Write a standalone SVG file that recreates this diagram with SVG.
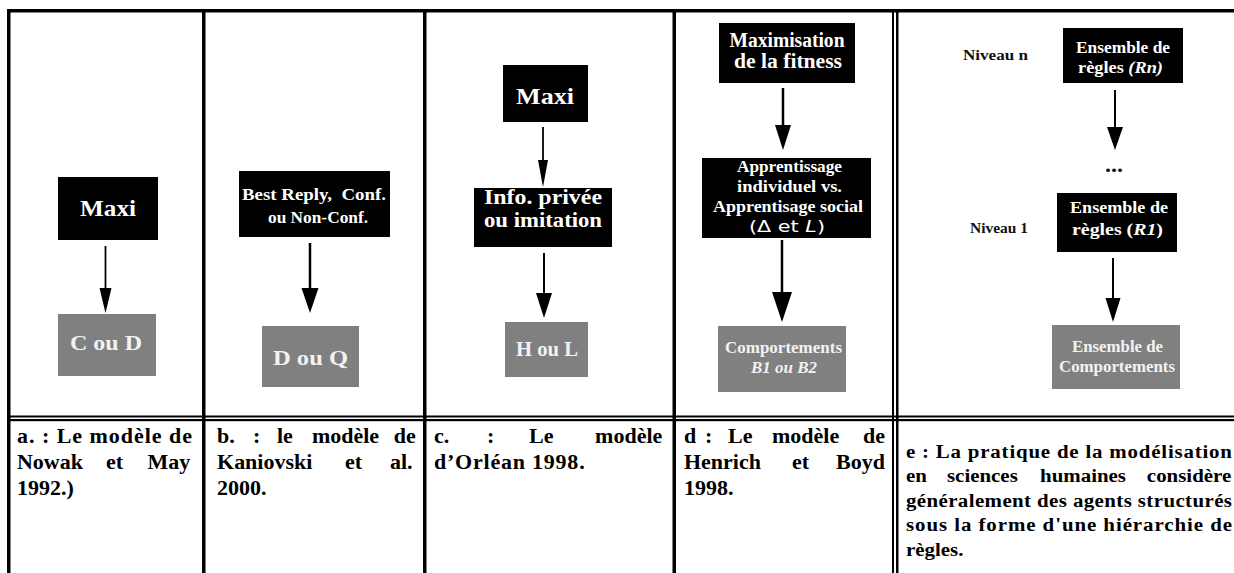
<svg xmlns="http://www.w3.org/2000/svg" width="1234" height="573" viewBox="0 0 1234 573">
<style>
.bg{fill:#fff}
.rule{fill:#000}
.blk{fill:#000}
.gry{fill:#808080}
.bt{font-family:"Liberation Serif","Times New Roman",serif;font-weight:bold;fill:#fff;text-anchor:middle}
.gt{font-family:"Liberation Serif","Times New Roman",serif;font-weight:bold;fill:#f2f2f2;text-anchor:middle}
.lbl{font-family:"Liberation Serif","Times New Roman",serif;font-weight:bold;fill:#111}
.cap{font-family:"Liberation Serif","Times New Roman",serif;font-weight:bold;fill:#000;font-size:20px}
.cape{font-family:"Liberation Serif","Times New Roman",serif;font-weight:bold;fill:#000;font-size:19px}
.sans{font-family:"DejaVu Sans","Liberation Sans",sans-serif;font-weight:normal}
.pre{white-space:pre}
.arr line{stroke:#000}
.arr polygon{fill:#000}
</style>
<rect class="bg" x="0" y="0" width="1234" height="573"/>

<g id="table">
<rect class="rule" x="7" y="9" width="1227" height="3.5"/>
<rect class="rule" x="7" y="9" width="3.5" height="564"/>
<rect class="rule" x="202" y="9" width="3.5" height="564"/>
<rect class="rule" x="423" y="9" width="3.5" height="564"/>
<rect class="rule" x="672.5" y="9" width="3.5" height="564"/>
<rect class="rule" x="892" y="9" width="2" height="564"/>
<rect class="rule" x="896" y="9" width="2.5" height="564"/>
<rect class="rule" x="7" y="415.5" width="1227" height="2"/>
<rect class="rule" x="7" y="419" width="1227" height="2.2"/>
</g>

<g id="a-maxi">
<rect class="blk" x="58" y="177" width="100" height="63"/>
<text class="bt" x="108" y="216" font-size="24" textLength="56" lengthAdjust="spacingAndGlyphs">Maxi</text>
</g>
<g id="a-cd">
<rect class="gry" x="58" y="314" width="98" height="62"/>
<text class="gt" x="106" y="350" font-size="20" textLength="72" lengthAdjust="spacingAndGlyphs">C ou D</text>
</g>

<g id="b-best">
<rect class="blk" x="239" y="171" width="151" height="66"/>
<text class="bt pre" x="314" y="200" font-size="16.5" textLength="144" lengthAdjust="spacingAndGlyphs">Best Reply,  Conf.</text>
<text class="bt" x="318" y="223" font-size="16.5" textLength="100" lengthAdjust="spacingAndGlyphs">ou Non-Conf.</text>
</g>
<g id="b-dq">
<rect class="gry" x="262" y="326" width="97" height="61"/>
<text class="gt" x="310.5" y="365" font-size="20" textLength="75" lengthAdjust="spacingAndGlyphs">D ou Q</text>
</g>

<g id="c-maxi">
<rect class="blk" x="503" y="65" width="85" height="57"/>
<text class="bt" x="545" y="104" font-size="24" textLength="58" lengthAdjust="spacingAndGlyphs">Maxi</text>
</g>
<g id="c-info">
<rect class="blk" x="474" y="188" width="138" height="59"/>
<text class="bt" x="543" y="204" font-size="20" textLength="118" lengthAdjust="spacingAndGlyphs">Info. privée</text>
<text class="bt" x="543" y="227" font-size="20" textLength="118" lengthAdjust="spacingAndGlyphs">ou imitation</text>
</g>
<g id="c-hl">
<rect class="gry" x="505" y="322" width="83" height="55"/>
<text class="gt" x="547" y="356" font-size="21" textLength="62" lengthAdjust="spacingAndGlyphs">H ou L</text>
</g>

<g id="d-max">
<rect class="blk" x="719" y="23" width="136" height="60"/>
<text class="bt" x="787" y="47" font-size="20" textLength="115" lengthAdjust="spacingAndGlyphs">Maximisation</text>
<text class="bt" x="788" y="68" font-size="20" textLength="108" lengthAdjust="spacingAndGlyphs">de la fitness</text>
</g>
<g id="d-app">
<rect class="blk" x="702" y="158" width="169" height="80"/>
<text class="bt" x="789.5" y="172" font-size="16" textLength="105" lengthAdjust="spacingAndGlyphs">Apprentissage</text>
<text class="bt" x="789.5" y="192" font-size="16" textLength="105" lengthAdjust="spacingAndGlyphs">individuel vs.</text>
<text class="bt" x="788" y="212" font-size="16" textLength="150" lengthAdjust="spacingAndGlyphs">Apprentisage social</text>
<text class="bt sans" x="787" y="232" font-size="16" textLength="76" lengthAdjust="spacingAndGlyphs">(Δ et <tspan font-style="italic">L</tspan>)</text>
</g>
<g id="d-comp">
<rect class="gry" x="718" y="326" width="128" height="66"/>
<text class="gt" x="783.5" y="353" font-size="16" textLength="117" lengthAdjust="spacingAndGlyphs">Comportements</text>
<text class="gt" x="784" y="373" font-size="16" font-style="italic" textLength="66" lengthAdjust="spacingAndGlyphs">B1 ou B2</text>
</g>

<g id="e-niveau-n">
<text class="lbl" x="963" y="60" font-size="15" textLength="65" lengthAdjust="spacingAndGlyphs">Niveau n</text>
</g>
<g id="e-rn">
<rect class="blk" x="1063" y="28" width="120" height="55"/>
<text class="bt" x="1123" y="53" font-size="16" textLength="94" lengthAdjust="spacingAndGlyphs">Ensemble de</text>
<text class="bt" x="1120.5" y="73" font-size="16" textLength="85" lengthAdjust="spacingAndGlyphs">règles <tspan font-style="italic">(Rn)</tspan></text>
</g>
<g id="e-dots">
<text class="lbl" x="1114" y="172" font-size="20" text-anchor="middle" textLength="18" lengthAdjust="spacingAndGlyphs">...</text>
</g>
<g id="e-niveau-1">
<text class="lbl" x="970" y="233" font-size="15" textLength="58" lengthAdjust="spacingAndGlyphs">Niveau 1</text>
</g>
<g id="e-r1">
<rect class="blk" x="1057" y="193" width="120" height="59"/>
<text class="bt" x="1119" y="213" font-size="16" textLength="98" lengthAdjust="spacingAndGlyphs">Ensemble de</text>
<text class="bt" x="1117.5" y="235" font-size="16" textLength="91" lengthAdjust="spacingAndGlyphs">règles (<tspan font-style="italic">R1</tspan>)</text>
</g>
<g id="e-comp">
<rect class="gry" x="1052" y="325" width="128" height="64"/>
<text class="gt" x="1117.5" y="352" font-size="16" textLength="91" lengthAdjust="spacingAndGlyphs">Ensemble de</text>
<text class="gt" x="1117" y="372" font-size="16" textLength="116" lengthAdjust="spacingAndGlyphs">Comportements</text>
</g>

<g id="connectors" class="arr">
<line x1="105.5" y1="246" x2="105.5" y2="290" stroke-width="1.8"/>
<polygon points="99.5,288 111.5,288 105.5,313"/>
<line x1="310" y1="243" x2="310" y2="290" stroke-width="2.5"/>
<polygon points="301.5,288 318.5,288 310,313"/>
<line x1="543" y1="127" x2="543" y2="162" stroke-width="1.8"/>
<polygon points="538,160 548,160 543,187"/>
<line x1="544" y1="253" x2="544" y2="295" stroke-width="2"/>
<polygon points="536,293 552,293 544,318"/>
<line x1="783" y1="88" x2="783" y2="127" stroke-width="2.5"/>
<polygon points="775,125 791,125 783,150"/>
<line x1="782" y1="240" x2="782" y2="294" stroke-width="2.5"/>
<polygon points="772,292 792,292 782,322"/>
<line x1="1115" y1="90" x2="1115" y2="129" stroke-width="2"/>
<polygon points="1107,127 1123,127 1115,150"/>
<line x1="1113" y1="258" x2="1113" y2="300" stroke-width="2"/>
<polygon points="1105.5,298 1120.5,298 1113,322"/>
</g>

<g id="captions" transform="scale(1.1 1)">
<text class="cap" x="15.45" y="443" textLength="159" lengthAdjust="spacing">a. : Le modèle de</text>
<text class="cap" y="469"><tspan x="15.45">Nowak</tspan><tspan x="96.4">et</tspan><tspan x="134">May</tspan></text>
<text class="cap" x="15.45" y="495">1992.)</text>

<text class="cap" y="443"><tspan x="197.3">b.</tspan><tspan x="230">:</tspan><tspan x="251.8">le</tspan><tspan x="283.6">modèle</tspan><tspan x="358">de</tspan></text>
<text class="cap" y="469"><tspan x="197.3">Kaniovski</tspan><tspan x="313.6">et</tspan><tspan x="354.5">al.</tspan></text>
<text class="cap" x="197.3" y="495">2000.</text>

<text class="cap" y="443"><tspan x="394.5">c.</tspan><tspan x="442.7">:</tspan><tspan x="480.9">Le</tspan><tspan x="541">modèle</tspan></text>
<text class="cap" x="394.5" y="469" textLength="137" lengthAdjust="spacing">d’Orléan 1998.</text>

<text class="cap" y="443"><tspan x="621.8">d</tspan><tspan x="640.9">:</tspan><tspan x="661.8">Le</tspan><tspan x="701.8">modèle</tspan><tspan x="784.5">de</tspan></text>
<text class="cap" y="469"><tspan x="621.8">Henrich</tspan><tspan x="720">et</tspan><tspan x="760">Boyd</tspan></text>
<text class="cap" x="621.8" y="495">1998.</text>

<text class="cape" x="823.6" y="458" textLength="296.4" lengthAdjust="spacing">e : La pratique de la modélisation</text>
<text class="cape" y="482.5"><tspan x="823.6">en</tspan><tspan x="860.9">sciences</tspan><tspan x="945.5">humaines</tspan><tspan x="1042.6">considère</tspan></text>
<text class="cape" x="823.6" y="507" textLength="296.4" lengthAdjust="spacing">généralement des agents structurés</text>
<text class="cape" x="823.6" y="531.5" textLength="296.4" lengthAdjust="spacing">sous la forme d'une hiérarchie de</text>
<text class="cape" x="823.6" y="556">règles.</text>
</g>
</svg>
